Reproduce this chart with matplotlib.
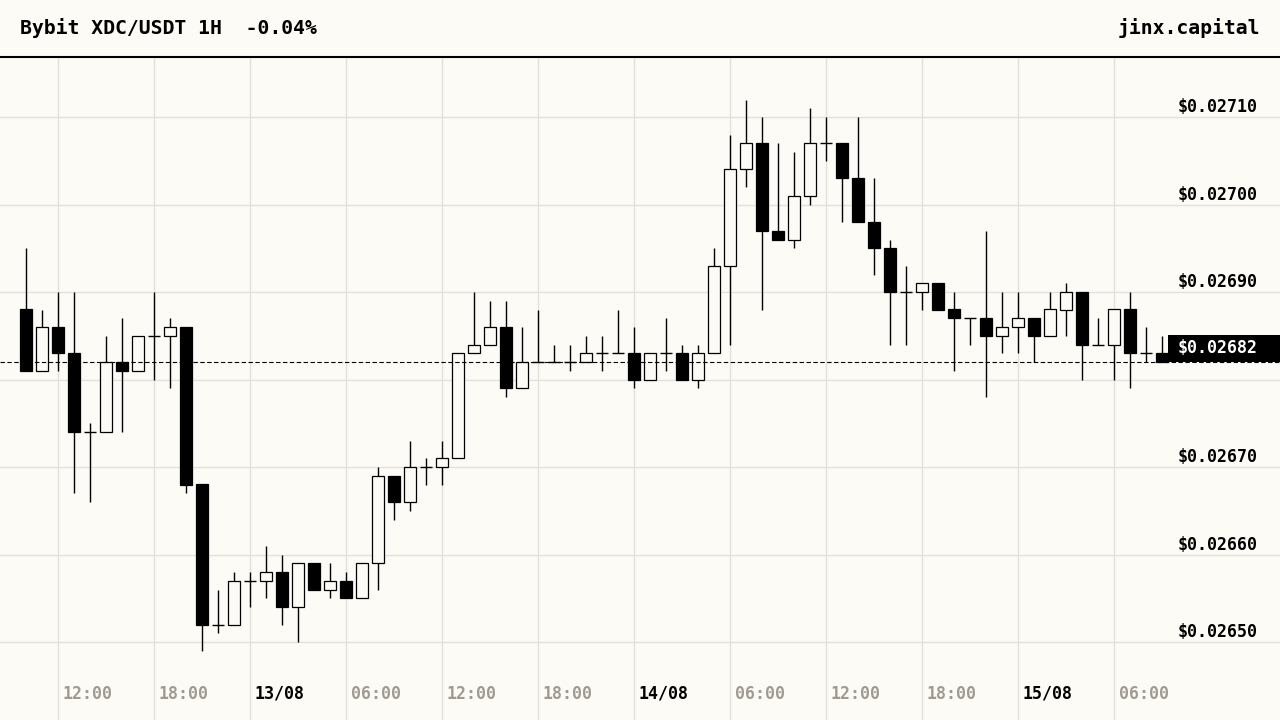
import numpy as np
import pandas as pd
import matplotlib
matplotlib.use('Agg')
import matplotlib.pyplot as plt
from matplotlib.patches import Rectangle
from matplotlib.lines import Line2D
from matplotlib.transforms import offset_copy, IdentityTransform

# hourly candles, Bybit XDC/USDT, 12/08 10:00 -> 15/08 09:00
start = '2024-08-12 10:00'
opens = [0.02688, 0.02681, 0.02686, 0.02683, 0.02674, 0.02674, 0.02682, 0.02681, 0.02685, 0.02685,
         0.02686, 0.02668, 0.02652, 0.02652, 0.02657, 0.02657, 0.02658, 0.02654, 0.02659, 0.02656,
         0.02657, 0.02655, 0.02659, 0.02669, 0.02666, 0.02670, 0.02670, 0.02671, 0.02683, 0.02684,
         0.02686, 0.02679, 0.02682, 0.02682, 0.02682, 0.02682, 0.02683, 0.02683, 0.02683, 0.02680,
         0.02683, 0.02683, 0.02680, 0.02683, 0.02693, 0.02704, 0.02707, 0.02697, 0.02696, 0.02701,
         0.02707, 0.02707, 0.02703, 0.02698, 0.02695, 0.02690, 0.02690, 0.02691, 0.02688, 0.02687,
         0.02687, 0.02685, 0.02686, 0.02687, 0.02685, 0.02688, 0.02690, 0.02684, 0.02684, 0.02688,
         0.02683, 0.02683]
highs = [0.02695, 0.02688, 0.02690, 0.02690, 0.02675, 0.02685, 0.02687, 0.02685, 0.02690, 0.02687,
         0.02686, 0.02668, 0.02656, 0.02658, 0.02658, 0.02661, 0.02660, 0.02659, 0.02659, 0.02659,
         0.02658, 0.02659, 0.02670, 0.02669, 0.02673, 0.02671, 0.02673, 0.02683, 0.02690, 0.02689,
         0.02689, 0.02686, 0.02688, 0.02684, 0.02684, 0.02685, 0.02685, 0.02688, 0.02686, 0.02683,
         0.02687, 0.02684, 0.02684, 0.02695, 0.02708, 0.02712, 0.02710, 0.02707, 0.02706, 0.02711,
         0.02710, 0.02707, 0.02710, 0.02703, 0.02696, 0.02693, 0.02691, 0.02691, 0.02690, 0.02687,
         0.02697, 0.02690, 0.02690, 0.02687, 0.02690, 0.02691, 0.02690, 0.02687, 0.02688, 0.02690,
         0.02686, 0.02685]
lows = [0.02681, 0.02681, 0.02681, 0.02667, 0.02666, 0.02674, 0.02674, 0.02681, 0.02680, 0.02679,
        0.02667, 0.02649, 0.02651, 0.02652, 0.02654, 0.02655, 0.02652, 0.02650, 0.02656, 0.02655,
        0.02655, 0.02655, 0.02656, 0.02664, 0.02665, 0.02668, 0.02668, 0.02671, 0.02683, 0.02684,
        0.02678, 0.02679, 0.02682, 0.02682, 0.02681, 0.02682, 0.02681, 0.02683, 0.02679, 0.02680,
        0.02681, 0.02680, 0.02679, 0.02683, 0.02684, 0.02702, 0.02688, 0.02696, 0.02695, 0.02700,
        0.02705, 0.02698, 0.02698, 0.02692, 0.02684, 0.02684, 0.02688, 0.02688, 0.02681, 0.02684,
        0.02678, 0.02683, 0.02683, 0.02682, 0.02685, 0.02685, 0.02680, 0.02684, 0.02680, 0.02679,
        0.02682, 0.02682]
closes = [0.02681, 0.02686, 0.02683, 0.02674, 0.02674, 0.02682, 0.02681, 0.02685, 0.02685, 0.02686,
          0.02668, 0.02652, 0.02652, 0.02657, 0.02657, 0.02658, 0.02654, 0.02659, 0.02656, 0.02657,
          0.02655, 0.02659, 0.02669, 0.02666, 0.02670, 0.02670, 0.02671, 0.02683, 0.02684, 0.02686,
          0.02679, 0.02682, 0.02682, 0.02682, 0.02682, 0.02683, 0.02683, 0.02683, 0.02680, 0.02683,
          0.02683, 0.02680, 0.02683, 0.02693, 0.02704, 0.02707, 0.02697, 0.02696, 0.02701, 0.02707,
          0.02707, 0.02703, 0.02698, 0.02695, 0.02690, 0.02690, 0.02691, 0.02688, 0.02687, 0.02687,
          0.02685, 0.02686, 0.02687, 0.02685, 0.02688, 0.02690, 0.02684, 0.02684, 0.02688, 0.02683,
          0.02683, 0.02682]
price_levels = [0.02650, 0.02660, 0.02670, 0.02680, 0.02690, 0.02700, 0.02710]
title = 'Bybit XDC/USDT 1H  -0.04%'
brand = 'jinx.capital'

BG = '#fdfbf6'
GRID = '#e4e1dc'
GREY = '#a09a93'
FONT = 'DejaVu Sans Mono'

o = np.array(opens)
h = np.array(highs)
l = np.array(lows)
c = np.array(closes)
times = pd.date_range(start, periods=len(o), freq='h')
x = np.arange(len(o))

fig = plt.figure(figsize=(12.8, 7.2), dpi=100, facecolor=BG)
ax = fig.add_axes([0, 0, 1, 663 / 720])
ax.set_facecolor(BG)

# wicks then bodies
ax.vlines(x, l, h, color='black', linewidth=1.0, zorder=2)
up = c > o
down = c < o
flat = c == o
w = 0.75
ax.bar(x[up], (c - o)[up], bottom=o[up], width=w, facecolor=BG,
       edgecolor='black', linewidth=0.9, zorder=3)
ax.bar(x[down], (o - c)[down], bottom=c[down], width=w, facecolor='black',
       edgecolor='black', linewidth=0.9, zorder=3)
ax.hlines(o[flat], x[flat] - w / 2, x[flat] + w / 2, color='black', linewidth=1.0, zorder=3)

last = closes[-1]
ax.axhline(last, color='black', linewidth=0.8, dashes=(4, 2.2), zorder=4)

ax.set_xlim(-26 / 16, (1280 - 26) / 16)
ax.set_ylim(0.02710 - 603 / 875000, 0.02710 + 60 / 875000)

tick_idx = [i for i, t in enumerate(times) if t.hour % 6 == 0]
ax.set_xticks(tick_idx)
ax.set_yticks(price_levels)
ax.grid(True, color=GRID, linewidth=1.0, zorder=0)
ax.tick_params(length=0, labelbottom=False, labelleft=False)
for s in ax.spines.values():
    s.set_visible(False)

# time labels
xtr = offset_copy(ax.get_xaxis_transform(), fig=fig, x=3.6, units='points')
for i in tick_idx:
    t = times[i]
    if t.hour == 0:
        ax.text(i, 26 / 663, t.strftime('%d/%m'), transform=xtr, ha='left', va='center',
                fontsize=12, fontweight='bold', family=FONT, color='black')
    else:
        ax.text(i, 26 / 663, t.strftime('%H:%M'), transform=xtr, ha='left', va='center',
                fontsize=12, fontweight='bold', family=FONT, color=GREY)

# price labels
ytr = offset_copy(ax.get_yaxis_transform(), fig=fig, y=3.6, units='points')
for p in price_levels:
    if abs(p - last) < 0.00005:
        continue
    ax.text(1178 / 1280, p, '$%.5f' % p, transform=ytr, ha='left', va='baseline',
            fontsize=12, fontweight='bold', family=FONT, color='black')

# current price tag
y0 = ax.transData.transform((0, last))[1]
fig.patches.append(Rectangle((1168, y0), 112, 27, transform=IdentityTransform(),
                             facecolor='black', edgecolor='none', zorder=5))
fig.text(1178 / 1280, (y0 + 13.5) / 720, '$%.5f' % last, ha='left', va='center',
         fontsize=12, fontweight='bold', family=FONT, color='white', zorder=6)

# header
fig.text(20 / 1280, 1 - 28 / 720, title, ha='left', va='center',
         fontsize=14.2, fontweight='bold', family=FONT, color='black')
fig.text(1260 / 1280, 1 - 28 / 720, brand, ha='right', va='center',
         fontsize=14.2, fontweight='bold', family=FONT, color='black')
fig.add_artist(Line2D([0, 1], [1 - 57 / 720] * 2, transform=fig.transFigure,
                      color='black', linewidth=1.5))

fig.savefig('out.png', dpi=100, facecolor=BG)
